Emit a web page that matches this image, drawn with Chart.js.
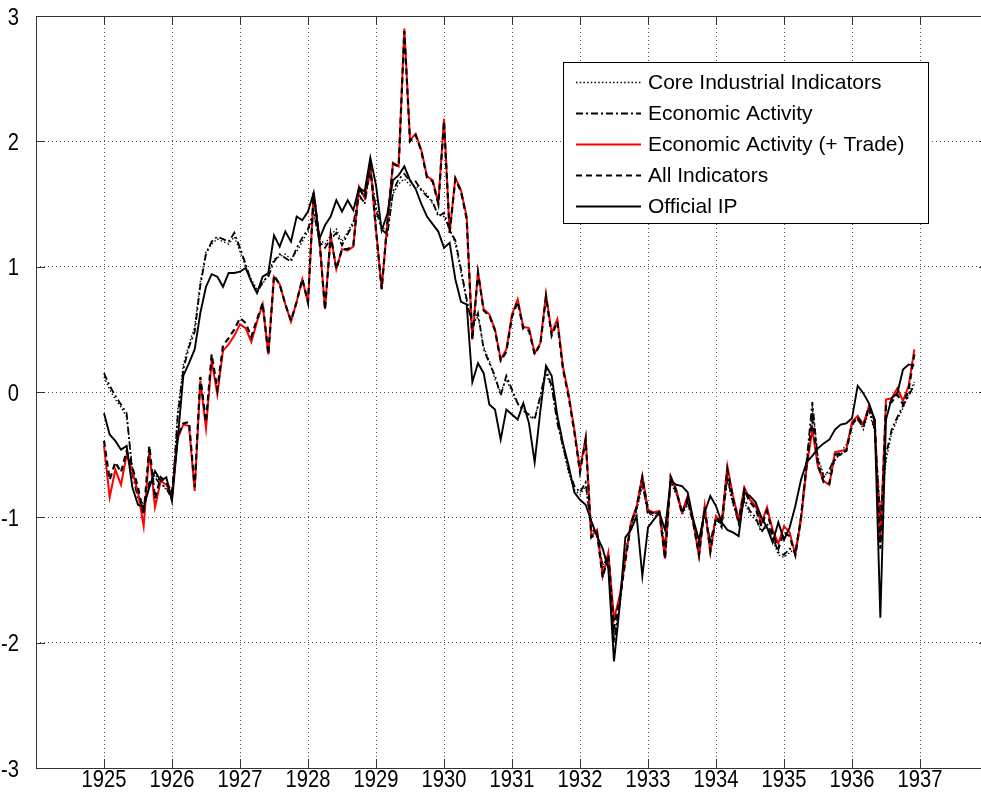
<!DOCTYPE html>
<html>
<head>
<meta charset="utf-8">
<script src="https://cdn.jsdelivr.net/npm/chart.js"></script>
<style>
  html, body { margin: 0; padding: 0; background: #fff; overflow: hidden; }
  #wrap { position: relative; width: 1000px; height: 803px; }
</style>
</head>
<body>
<div id="wrap"><canvas id="chart"></canvas></div>
<script>
// monthly series, Jan 1925 .. Dec 1936
const startYear = 1925;
const yearTicks = [1925, 1926, 1927, 1928, 1929, 1930, 1931, 1932, 1933, 1934, 1935, 1936, 1937];
const valueTicks = [-3, -2, -1, 0, 1, 2, 3];

const coreIndustrial = [
  0.12, 0.02, -0.06, -0.12, -0.20, -0.60, -0.82, -0.90, -0.75, -0.66, -0.72, -0.78,
  -0.84, -0.15, 0.22, 0.38, 0.52, 0.88, 1.12, 1.18, 1.22, 1.20, 1.18, 1.24,
  1.12, 1.00, 0.90, 0.82, 0.86, 0.95, 1.06, 1.08, 1.10, 1.06, 1.12, 1.20,
  1.28, 1.42, 1.22, 1.18, 1.25, 1.30, 1.20, 1.28, 1.36, 1.55, 1.52, 1.75,
  1.48, 1.32, 1.28, 1.58, 1.66, 1.70, 1.65, 1.64, 1.62, 1.58, 1.50, 1.42,
  1.40, 1.30, 1.18, 0.95, 0.72, 0.55, 0.60, 0.36, 0.25, 0.10, 0.00, 0.10,
  0.00, -0.10, -0.12, -0.20, -0.20, -0.05, 0.15, 0.03, -0.22, -0.45, -0.65, -0.78,
  -0.82, -0.75, -1.08, -1.15, -1.38, -1.32, -1.95, -1.72, -1.28, -1.08, -0.95, -0.75,
  -0.96, -0.99, -0.98, -1.22, -0.72, -0.82, -0.98, -0.90, -1.02, -1.20, -0.98, -1.18,
  -1.02, -1.06, -0.70, -0.90, -1.02, -0.88, -0.98, -1.02, -1.10, -1.08, -1.18, -1.30,
  -1.32, -1.28, -1.25, -1.02, -0.58, -0.12, -0.52, -0.66, -0.65, -0.55, -0.48, -0.42,
  -0.27, -0.20, -0.30, -0.15, -0.32, -0.95, -0.55, -0.33, -0.22, -0.13, -0.01, 0.08
];

const economicActivity = [
  0.15, 0.05, -0.03, -0.10, -0.17, -0.65, -0.85, -0.93, -0.72, -0.68, -0.74, -0.76,
  -0.86, -0.20, 0.18, 0.36, 0.48, 0.85, 1.10, 1.20, 1.24, 1.22, 1.20, 1.27,
  1.15, 1.02, 0.88, 0.79, 0.88, 0.92, 1.04, 1.10, 1.07, 1.04, 1.15, 1.23,
  1.30, 1.45, 1.20, 1.15, 1.22, 1.27, 1.17, 1.26, 1.34, 1.58, 1.50, 1.78,
  1.45, 1.30, 1.25, 1.60, 1.70, 1.74, 1.68, 1.68, 1.61, 1.56, 1.52, 1.40,
  1.43, 1.29, 1.21, 0.98, 0.74, 0.52, 0.63, 0.34, 0.23, 0.13, -0.03, 0.13,
  0.02, -0.09, -0.15, -0.18, -0.22, -0.03, 0.18, 0.05, -0.25, -0.43, -0.62, -0.75,
  -0.80, -0.72, -1.10, -1.12, -1.40, -1.30, -2.00, -1.70, -1.30, -1.06, -0.92, -0.72,
  -0.98, -0.97, -0.96, -1.25, -0.70, -0.80, -0.95, -0.88, -1.05, -1.22, -0.95, -1.20,
  -1.00, -1.08, -0.68, -0.88, -1.05, -0.85, -0.95, -1.00, -1.12, -1.05, -1.15, -1.28,
  -1.30, -1.25, -1.28, -1.00, -0.55, -0.08, -0.55, -0.68, -0.62, -0.52, -0.50, -0.45,
  -0.25, -0.22, -0.28, -0.12, -0.30, -1.00, -0.50, -0.30, -0.20, -0.11, -0.03, 0.06
];

const economicActivityTrade = [
  -0.43, -0.84, -0.62, -0.74, -0.50, -0.63, -0.80, -1.07, -0.47, -0.92, -0.71, -0.74,
  -0.82, -0.37, -0.26, -0.27, -0.79, 0.09, -0.29, 0.25, -0.02, 0.33, 0.38, 0.45,
  0.54, 0.51, 0.40, 0.56, 0.70, 0.30, 0.92, 0.86, 0.70, 0.56, 0.72, 0.90,
  0.71, 1.59, 1.23, 0.66, 1.25, 0.98, 1.14, 1.13, 1.16, 1.64, 1.55, 1.80,
  1.30, 0.82, 1.35, 1.83, 1.80, 2.90, 2.01, 2.06, 1.93, 1.72, 1.69, 1.51,
  2.18, 1.27, 1.71, 1.61, 1.40, 0.42, 0.96, 0.66, 0.62, 0.50, 0.26, 0.34,
  0.62, 0.74, 0.52, 0.51, 0.31, 0.39, 0.78, 0.47, 0.58, 0.20, -0.02, -0.30,
  -0.62, -0.36, -1.15, -1.10, -1.47, -1.28, -1.81, -1.63, -1.33, -1.04, -0.91, -0.67,
  -0.94, -0.96, -0.95, -1.33, -0.67, -0.78, -0.96, -0.83, -1.04, -1.31, -0.91, -1.28,
  -0.99, -1.04, -0.59, -0.83, -1.02, -0.76, -0.86, -0.91, -1.05, -0.92, -1.10, -1.21,
  -1.07, -1.12, -1.30, -1.02, -0.60, -0.30, -0.60, -0.71, -0.74, -0.48, -0.47, -0.46,
  -0.24, -0.19, -0.26, -0.11, -0.22, -1.20, -0.06, -0.05, 0.03, -0.07, 0.05, 0.34
];

const allIndicators = [
  -0.39, -0.70, -0.56, -0.64, -0.47, -0.60, -0.76, -0.98, -0.43, -0.85, -0.68, -0.72,
  -0.80, -0.35, -0.25, -0.24, -0.76, 0.12, -0.24, 0.30, 0.02, 0.37, 0.43, 0.50,
  0.59, 0.55, 0.44, 0.58, 0.71, 0.30, 0.93, 0.86, 0.70, 0.57, 0.72, 0.90,
  0.72, 1.59, 1.22, 0.66, 1.25, 0.98, 1.14, 1.14, 1.17, 1.63, 1.55, 1.80,
  1.29, 0.82, 1.35, 1.82, 1.80, 2.88, 2.00, 2.05, 1.92, 1.71, 1.68, 1.50,
  2.16, 1.27, 1.70, 1.60, 1.38, 0.42, 0.95, 0.65, 0.61, 0.49, 0.25, 0.32,
  0.60, 0.72, 0.50, 0.49, 0.30, 0.38, 0.76, 0.45, 0.56, 0.18, -0.04, -0.32,
  -0.64, -0.38, -1.16, -1.12, -1.48, -1.30, -1.88, -1.66, -1.35, -1.05, -0.92, -0.68,
  -0.95, -0.97, -0.96, -1.33, -0.68, -0.79, -0.97, -0.85, -1.05, -1.30, -0.92, -1.27,
  -1.00, -1.05, -0.62, -0.85, -1.03, -0.78, -0.88, -0.93, -1.07, -0.95, -1.13, -1.25,
  -1.12, -1.15, -1.30, -1.00, -0.58, -0.22, -0.58, -0.72, -0.73, -0.50, -0.49, -0.47,
  -0.26, -0.20, -0.27, -0.12, -0.23, -1.25, -0.10, -0.08, -0.02, -0.10, 0.02, 0.30
];

const officialIP = [
  -0.17, -0.34, -0.39, -0.46, -0.43, -0.76, -0.90, -0.92, -0.76, -0.63, -0.71, -0.68,
  -0.87, -0.38, 0.13, 0.23, 0.34, 0.63, 0.84, 0.94, 0.92, 0.84, 0.95, 0.95,
  0.96, 0.99, 0.88, 0.79, 0.92, 0.95, 1.25, 1.16, 1.28, 1.20, 1.40, 1.37,
  1.44, 1.59, 1.22, 1.33, 1.40, 1.53, 1.44, 1.53, 1.45, 1.63, 1.60, 1.87,
  1.65, 1.29, 1.42, 1.69, 1.73, 1.80, 1.69, 1.62, 1.50, 1.40, 1.34, 1.28,
  1.15, 1.19, 0.90, 0.72, 0.70, 0.08, 0.23, 0.15, -0.10, -0.14, -0.38, -0.14,
  -0.18, -0.22, -0.09, -0.25, -0.56, -0.15, 0.21, 0.13, -0.19, -0.41, -0.59, -0.80,
  -0.86, -0.90, -1.03, -1.15, -1.25, -1.41, -2.15, -1.71, -1.16, -1.10, -0.99, -1.47,
  -1.08, -1.02, -0.96, -1.10, -0.71, -0.74, -0.75, -0.80, -1.02, -1.18, -0.96, -0.83,
  -0.91, -1.04, -1.10, -1.12, -1.15, -0.80, -0.83, -0.88, -1.00, -1.08, -1.20, -1.04,
  -1.18, -1.08, -0.91, -0.70, -0.56, -0.51, -0.45, -0.41, -0.38, -0.30, -0.26, -0.25,
  -0.21, 0.05, -0.01, -0.09, -0.22, -1.80, -0.22, -0.05, -0.01, 0.18, 0.22, 0.21
];

const toPoints = (vals) => vals.map((v, i) => ({ x: startYear + i / 12, y: v }));

const tickFont = '24px "Liberation Sans", Arial, sans-serif';
const legendFont = '21px "Liberation Sans", Arial, sans-serif';

// frame, inward ticks, tick labels and boxed legend (matlab look)
const matlabFrame = {
  id: 'matlabFrame',
  afterDraw(chart) {
    const { ctx, chartArea: a, scales: { x, y } } = chart;
    ctx.save();

    ctx.strokeStyle = '#333';
    ctx.lineWidth = 1;
    ctx.setLineDash([]);
    ctx.strokeRect(a.left + 0.5, a.top + 0.5, a.right - a.left, a.bottom - a.top);

    ctx.beginPath();
    yearTicks.forEach(v => {
      const px = Math.round(x.getPixelForValue(v)) + 0.5;
      ctx.moveTo(px, a.bottom); ctx.lineTo(px, a.bottom - 9);
      ctx.moveTo(px, a.top); ctx.lineTo(px, a.top + 9);
    });
    valueTicks.forEach(v => {
      const py = Math.round(y.getPixelForValue(v)) + 0.5;
      ctx.moveTo(a.left, py); ctx.lineTo(a.left + 9, py);
      ctx.moveTo(a.right, py); ctx.lineTo(a.right - 9, py);
    });
    ctx.stroke();

    ctx.fillStyle = '#000';
    ctx.font = tickFont;
    ctx.textBaseline = 'alphabetic';
    yearTicks.forEach(v => {
      ctx.save();
      ctx.translate(x.getPixelForValue(v), a.bottom + 19);
      ctx.scale(0.84, 1);
      ctx.textAlign = 'center';
      ctx.fillText(String(v), 0, 0);
      ctx.restore();
    });
    valueTicks.forEach(v => {
      ctx.save();
      ctx.translate(19, y.getPixelForValue(v) + 8.5);
      ctx.scale(0.84, 1);
      ctx.textAlign = 'right';
      ctx.fillText(String(v), 0, 0);
      ctx.restore();
    });

    // legend box
    const bx = 563, by = 62, bw = 365, bh = 161;
    ctx.fillStyle = '#fff';
    ctx.fillRect(bx, by, bw, bh);
    ctx.strokeStyle = '#000';
    ctx.lineWidth = 1;
    ctx.strokeRect(bx + 0.5, by + 0.5, bw, bh);

    ctx.font = legendFont;
    ctx.textAlign = 'left';
    ctx.textBaseline = 'middle';
    chart.data.datasets.forEach((ds, i) => {
      const ry = by + 20 + i * 31;
      ctx.beginPath();
      ctx.strokeStyle = ds.borderColor;
      ctx.lineWidth = ds.borderWidth;
      ctx.setLineDash(ds.borderDash || []);
      ctx.moveTo(576, ry + 0.5);
      ctx.lineTo(641, ry + 0.5);
      ctx.stroke();
      ctx.setLineDash([]);
      ctx.fillStyle = '#000';
      ctx.fillText(ds.label, 648, ry + 1);
    });

    ctx.restore();
  }
};

new Chart(document.getElementById('chart'), {
  type: 'line',
  data: {
    datasets: [
      { label: 'Core Industrial Indicators', data: toPoints(coreIndustrial),
        borderColor: '#000', borderWidth: 1.3, borderDash: [1.5, 2.2], order: 4 },
      { label: 'Economic Activity', data: toPoints(economicActivity),
        borderColor: '#000', borderWidth: 1.8, borderDash: [7, 3, 2, 3], order: 3 },
      { label: 'Economic Activity (+ Trade)', data: toPoints(economicActivityTrade),
        borderColor: '#ff0000', borderWidth: 2, order: 2 },
      { label: 'All Indicators', data: toPoints(allIndicators),
        borderColor: '#000', borderWidth: 2.2, borderDash: [6, 4], order: 1 },
      { label: 'Official IP', data: toPoints(officialIP),
        borderColor: '#000', borderWidth: 1.9, order: 0 }
    ]
  },
  options: {
    responsive: true,
    maintainAspectRatio: false,
    animation: false,
    events: [],
    layout: { padding: { left: 0, top: 16, right: 12, bottom: 0 } },
    elements: {
      point: { radius: 0 },
      line: { tension: 0, fill: false }
    },
    plugins: {
      legend: { display: false },
      tooltip: { enabled: false }
    },
    scales: {
      x: {
        type: 'linear',
        min: 1924,
        max: 1938,
        afterBuildTicks: (scale) => { scale.ticks = yearTicks.map(v => ({ value: v })); },
        afterFit: (scale) => { scale.height = 35; },
        ticks: { display: false },
        grid: { color: '#555', lineWidth: 1, drawTicks: false },
        border: { display: false, dash: [1, 3] }
      },
      y: {
        min: -3,
        max: 3,
        afterBuildTicks: (scale) => { scale.ticks = valueTicks.map(v => ({ value: v })); },
        afterFit: (scale) => { scale.width = 36; },
        ticks: { display: false },
        grid: { color: '#555', lineWidth: 1, drawTicks: false },
        border: { display: false, dash: [1, 3] }
      }
    }
  },
  plugins: [matlabFrame]
});
</script>
</body>
</html>
